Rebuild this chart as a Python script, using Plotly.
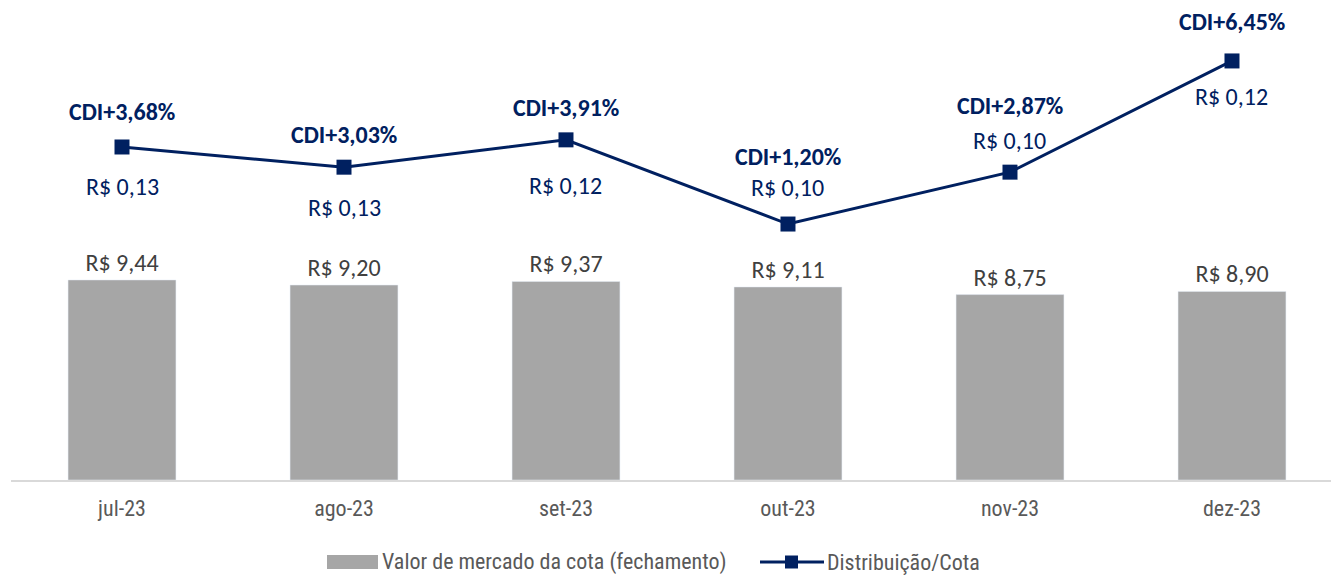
import plotly.graph_objects as go

months = ["jul-23", "ago-23", "set-23", "out-23", "nov-23", "dez-23"]
market_value = [9.44, 9.20, 9.37, 9.11, 8.75, 8.90]
market_labels = ["R$ 9,44", "R$ 9,20", "R$ 9,37", "R$ 9,11", "R$ 8,75", "R$ 8,90"]
cdi_spread = [3.68, 3.03, 3.91, 1.20, 2.87, 6.45]
cdi_labels = ["CDI+3,68%", "CDI+3,03%", "CDI+3,91%", "CDI+1,20%", "CDI+2,87%", "CDI+6,45%"]
dist_labels = ["R$ 0,13", "R$ 0,13", "R$ 0,12", "R$ 0,10", "R$ 0,10", "R$ 0,12"]
# label offsets (pixels) relative to the markers
cdi_shift = [35, 33, 32, 68, 67, 39]
dist_shift = [-40, -40, -46, 37, 32, -36]

NAVY = "#002060"
GRAY = "#A6A6A6"
NARROW = "Liberation Sans Narrow, Arial Narrow, Roboto Condensed, Roboto, sans-serif"
CAL = "Carlito, Calibri, Lato, sans-serif"

fig = go.Figure()
fig.add_trace(go.Bar(
    x=months, y=market_value, marker_color=GRAY, width=0.486,
    text=market_labels, textposition="outside", cliponaxis=False,
    textfont=dict(family=CAL, size=24, color="#404040"),
    name="Valor de mercado da cota (fechamento)", showlegend=False,
))
fig.add_trace(go.Scatter(
    x=months, y=cdi_spread, yaxis="y2", mode="lines+markers",
    line=dict(color=NAVY, width=3),
    marker=dict(symbol="square", size=15, color=NAVY),
    name="Distribuição/Cota", showlegend=False, cliponaxis=False,
))

for m, v, c, d, cs, ds in zip(months, cdi_spread, cdi_labels, dist_labels, cdi_shift, dist_shift):
    fig.add_annotation(x=m, y=v, yref="y2", text=f"<b>{c}</b>", showarrow=False,
                       yshift=cs, font=dict(family=CAL, size=24, color=NAVY))
    fig.add_annotation(x=m, y=v, yref="y2", text=d, showarrow=False,
                       yshift=ds, font=dict(family=CAL, size=24, color=NAVY))

# custom legend
W, L, B, H = 1320, 11, 480, 470
def px(xp):
    return (xp - L) / W
def py(yp):
    return (B - yp) / H

fig.add_shape(type="rect", xref="paper", yref="paper",
              x0=px(327), x1=px(378), y0=py(569), y1=py(555),
              fillcolor=GRAY, line_width=0)
fig.add_annotation(xref="paper", yref="paper", x=px(380), y=py(562), xanchor="left",
                   yanchor="middle", showarrow=False, text="Valor de mercado da cota (fechamento)",
                   font=dict(family=NARROW, size=22, color="#595959"))
fig.add_shape(type="line", xref="paper", yref="paper",
              x0=px(760), x1=px(824), y0=py(562), y1=py(562),
              line=dict(color=NAVY, width=3))
fig.add_shape(type="rect", xref="paper", yref="paper",
              x0=px(785), x1=px(798), y0=py(568.5), y1=py(555.5),
              fillcolor=NAVY, line_width=0)
fig.add_annotation(xref="paper", yref="paper", x=px(825), y=py(562), xanchor="left",
                   yanchor="middle", showarrow=False, text="Distribuição/Cota",
                   font=dict(family=NARROW, size=22, color="#595959"))

fig.update_layout(
    width=1331, height=576,
    margin=dict(l=11, r=0, t=10, b=96),
    plot_bgcolor="white", paper_bgcolor="white",
    bargap=0.5,
    xaxis=dict(type="category", range=[-0.5, 5.446], showgrid=False,
               showline=True, linecolor="#D9D9D9", linewidth=2, ticks="",
               ticklabelstandoff=8,
               tickfont=dict(family=NARROW, size=22, color="#595959")),
    yaxis=dict(range=[0, 22.18], visible=False, showgrid=False),
    yaxis2=dict(range=[-7.04, 8.09], overlaying="y", side="right", visible=False, showgrid=False),
)

fig.write_html("out.html")
